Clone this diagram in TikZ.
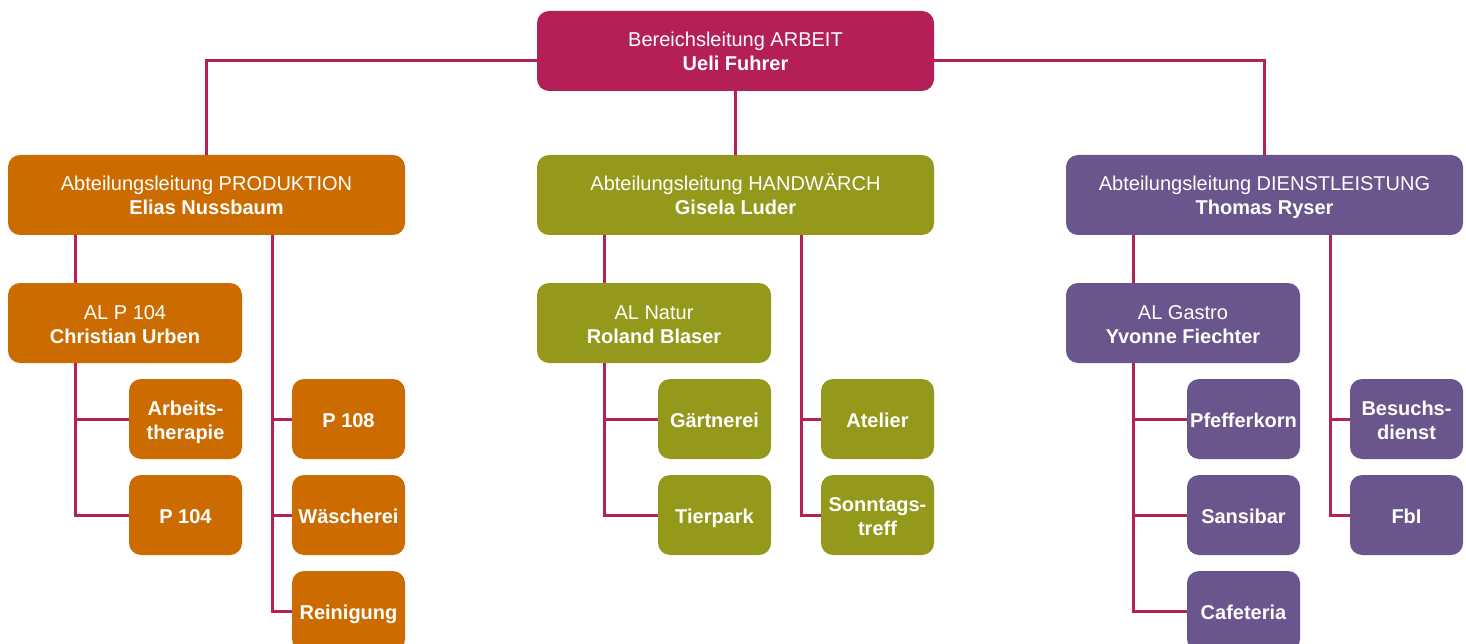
\documentclass[tikz,border=0pt]{standalone}
\usepackage{fontspec}
\setmainfont{Liberation Sans}
\definecolor{mag}{HTML}{B31F56}
\definecolor{ora}{HTML}{CC6C00}
\definecolor{oli}{HTML}{94991B}
\definecolor{pur}{HTML}{6A558D}
\definecolor{linec}{HTML}{B7215A}
\begin{document}
\begin{tikzpicture}[x=1pt,y=-1pt,
  twol/.style={text height=44pt, text depth=4pt},
  onel/.style={text height=16.6pt, text depth=0pt},
  box/.style={rounded corners=12pt, inner sep=0pt, text=white, align=center,
    font=\fontsize{20}{24}\selectfont, minimum height=80pt, twol},
  wide/.style={box, minimum width=397pt},
  sub/.style={box, minimum width=234pt},
  leaf/.style={box, minimum width=113pt, font=\bfseries\fontsize{20}{24}\selectfont, onel},
  conn/.style={draw=linec, line width=3pt}]
\useasboundingbox (0,0) rectangle (1466,644);
\clip (0,0) rectangle (1466,644);
% top
\node[wide, fill=mag] (top) at (735.5,51) {Bereichsleitung ARBEIT\\\textbf{Ueli Fuhrer}};
% level 2
\node[wide, fill=ora] (prod) at (206.5,195) {Abteilungsleitung PRODUKTION\\\textbf{Elias Nussbaum}};
\node[wide, fill=oli] (hand) at (735.5,195) {Abteilungsleitung HANDWÄRCH\\\textbf{Gisela Luder}};
\node[wide, fill=pur] (dien) at (1264.5,195) {Abteilungsleitung DIENSTLEISTUNG\\\textbf{Thomas Ryser}};
% level 3
\node[sub, fill=ora] (alp) at (125,323) {AL P 104\\\textbf{Christian Urben}};
\node[sub, fill=oli] (aln) at (654,323) {AL Natur\\\textbf{Roland Blaser}};
\node[sub, fill=pur] (alg) at (1183,323) {AL Gastro\\\textbf{Yvonne Fiechter}};
% leaves A
\node[leaf, twol, fill=ora] (arbt) at (185.5,419) {Arbeits-\\therapie};
\node[leaf, fill=ora] (p104) at (185.5,515) {P 104};
\node[leaf, fill=ora] (p108) at (348.5,419) {P 108};
\node[leaf, fill=ora] (wasch) at (348.5,515) {Wäscherei};
\node[leaf, fill=ora] (rein) at (348.5,611) {Reinigung};
% leaves B
\node[leaf, fill=oli] (gaert) at (714.5,419) {Gärtnerei};
\node[leaf, fill=oli] (tier) at (714.5,515) {Tierpark};
\node[leaf, fill=oli] (atel) at (877.5,419) {Atelier};
\node[leaf, twol, fill=oli] (sonn) at (877.5,515) {Sonntags-\\treff};
% leaves C
\node[leaf, fill=pur] (pfef) at (1243.5,419) {Pfefferkorn};
\node[leaf, fill=pur] (sans) at (1243.5,515) {Sansibar};
\node[leaf, fill=pur] (cafe) at (1243.5,611) {Cafeteria};
\node[leaf, twol, fill=pur] (besu) at (1406.5,419) {Besuchs-\\dienst};
\node[leaf, fill=pur] (fbi) at (1406.5,515) {FbI};
% connectors top
\draw[conn] ([yshift=-10pt]top.west) -| (prod.north);
\draw[conn] ([yshift=-10pt]top.east) -| (dien.north);
\draw[conn] (top.south) -- (hand.north);
% group A
\draw[conn] ([xshift=68pt]prod.south west) -- ([xshift=68pt]alp.north west);
\draw[conn] ([xshift=68pt]alp.south west) |- (p104.west);
\draw[conn] (arbt.west) -| ([xshift=68pt]alp.south west);
\draw[conn] ([xshift=265pt]prod.south west) |- (rein.west);
\draw[conn] (p108.west) -| ([xshift=265pt]prod.south west);
\draw[conn] (wasch.west) -| ([xshift=265pt]prod.south west);
% group B
\draw[conn] ([xshift=68pt]hand.south west) -- ([xshift=68pt]aln.north west);
\draw[conn] ([xshift=68pt]aln.south west) |- (tier.west);
\draw[conn] (gaert.west) -| ([xshift=68pt]aln.south west);
\draw[conn] ([xshift=265pt]hand.south west) |- (sonn.west);
\draw[conn] (atel.west) -| ([xshift=265pt]hand.south west);
% group C
\draw[conn] ([xshift=68pt]dien.south west) -- ([xshift=68pt]alg.north west);
\draw[conn] ([xshift=68pt]alg.south west) |- (cafe.west);
\draw[conn] (pfef.west) -| ([xshift=68pt]alg.south west);
\draw[conn] (sans.west) -| ([xshift=68pt]alg.south west);
\draw[conn] ([xshift=265pt]dien.south west) |- (fbi.west);
\draw[conn] (besu.west) -| ([xshift=265pt]dien.south west);
\end{tikzpicture}
\end{document}
